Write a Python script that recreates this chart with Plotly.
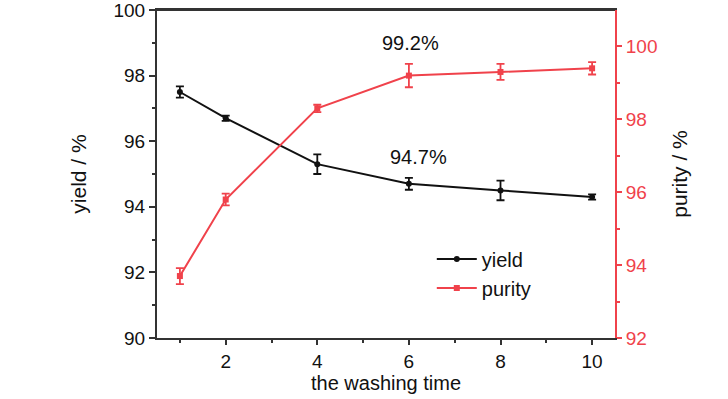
import plotly.graph_objects as go

washing_time = [1, 2, 4, 6, 8, 10]
yield_vals = [97.5, 96.7, 95.3, 94.7, 94.5, 94.3]
yield_err = [0.17, 0.08, 0.3, 0.18, 0.3, 0.08]
purity_vals = [93.7, 95.8, 98.3, 99.2, 99.3, 99.4]
purity_err = [0.22, 0.16, 0.1, 0.32, 0.22, 0.17]
x_ticks = [2, 4, 6, 8, 10]
y1_ticks = [90, 92, 94, 96, 98, 100]
y2_ticks = [92, 94, 96, 98, 100]

RED = "#f0424b"
FONT = "Liberation Sans, Arial"

fig = go.Figure()
fig.add_trace(go.Scatter(
    x=washing_time, y=yield_vals, name="yield", mode="lines+markers",
    line=dict(color="#111111", width=2),
    marker=dict(symbol="circle", size=6, color="#111111"),
    error_y=dict(type="data", array=yield_err, color="#111111", thickness=1.8, width=4),
    yaxis="y"))
fig.add_trace(go.Scatter(
    x=washing_time, y=purity_vals, name="purity", mode="lines+markers",
    line=dict(color=RED, width=2),
    marker=dict(symbol="square", size=6, color=RED),
    error_y=dict(type="data", array=purity_err, color=RED, thickness=1.8, width=4),
    yaxis="y2"))

fig.add_annotation(x=6, y=99.2, yref="y2", text="99.2%", showarrow=False,
                   yshift=33, xshift=2, font=dict(size=20, color="#111111", family=FONT))
fig.add_annotation(x=6, y=94.7, yref="y", text="94.7%", showarrow=False,
                   yshift=27, xshift=10, font=dict(size=20, color="#111111", family=FONT))

# top frame line of the plot box
fig.add_shape(type="line", xref="paper", yref="paper", x0=0, x1=1, y0=1, y1=1,
              line=dict(color="#333333", width=2))

fig.update_layout(
    width=728, height=399,
    margin=dict(l=157, r=113, t=10, b=61, autoexpand=False),
    paper_bgcolor="white", plot_bgcolor="white",
    font=dict(family=FONT, size=18, color="#111111"),
    showlegend=True,
    legend=dict(x=0.6, y=0.3, xanchor="left", yanchor="top",
                bgcolor="rgba(0,0,0,0)", font=dict(size=20, family=FONT),
                itemwidth=40, tracegroupgap=0),
    xaxis=dict(range=[0.5, 10.5], tickvals=x_ticks, ticks="outside", ticklen=5,
               tickwidth=2, tickcolor="#333333", automargin=False,
               ticklabeloverflow="allow",
               minor=dict(tickvals=[1, 3, 5, 7, 9], ticks="outside", ticklen=3,
                          tickwidth=2, tickcolor="#333333"),
               showline=True, linecolor="#333333", linewidth=2, mirror=True,
               showgrid=False, zeroline=False,
               title=dict(text="the washing time", font=dict(size=20), standoff=2),
               tickfont=dict(size=19)),
    yaxis=dict(range=[90, 100], tickvals=y1_ticks, ticks="outside", ticklen=6,
               tickwidth=2, tickcolor="#333333", automargin=False,
               ticklabeloverflow="allow",
               minor=dict(tickvals=[91, 93, 95, 97, 99], ticks="outside", ticklen=3,
                          tickwidth=2, tickcolor="#333333"),
               showline=True, linecolor="#333333", linewidth=2,
               showgrid=False, zeroline=False,
               title=dict(text="yield / %", font=dict(size=21), standoff=21),
               tickfont=dict(size=19)),
    yaxis2=dict(range=[92, 101], tickvals=y2_ticks, overlaying="y", side="right",
                ticks="outside", ticklen=5, tickwidth=2, tickcolor=RED, automargin=False,
                ticklabeloverflow="allow",
                minor=dict(tickvals=[93, 95, 97, 99], ticks="outside", ticklen=3,
                           tickwidth=2, tickcolor=RED),
                showline=True, linecolor=RED, linewidth=2,
                showgrid=False, zeroline=False,
                title=dict(text="purity / %", font=dict(size=21, color="#111111"),
                           standoff=16),
                tickfont=dict(size=19, color=RED)),
)

fig.write_html("out.html", config={"displayModeBar": False},
               post_script="document.body.style.margin='0';document.body.style.overflow='hidden';")
